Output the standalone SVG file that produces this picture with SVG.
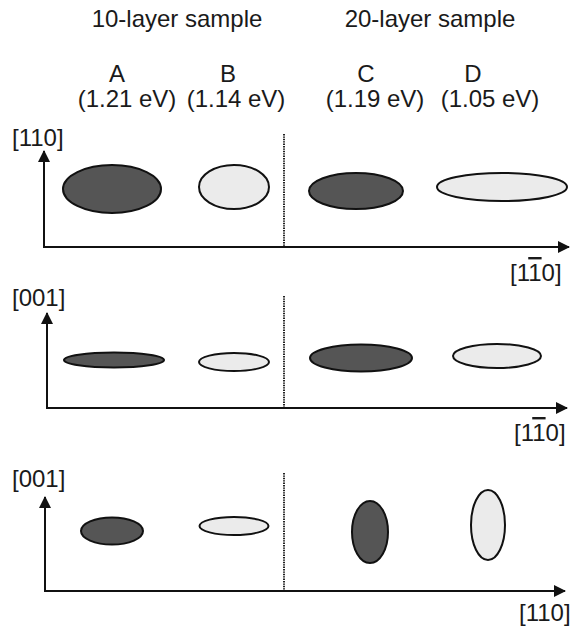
<svg xmlns="http://www.w3.org/2000/svg" width="573" height="628" viewBox="0 0 573 628">
<style>
text{font-family:"Liberation Sans",Arial,sans-serif;font-size:24px;fill:#1a1a1a}
.m{text-anchor:middle}
.ax{stroke:#111;stroke-width:2;fill:none}
.dot{stroke:#222;stroke-width:2;stroke-dasharray:1.4 1;fill:none}
.dk{fill:#555;stroke:#111;stroke-width:2}
.lt{fill:#ebebeb;stroke:#111;stroke-width:2}
.ol{text-decoration:overline}
</style>
<defs>
<marker id="ah" viewBox="0 0 12 12" refX="11" refY="6" markerWidth="12" markerHeight="12" markerUnits="userSpaceOnUse" orient="auto">
<path d="M0,0 L12,6 L0,12 Z" fill="#111"/>
</marker>
</defs>
<g id="headers">
<text class="m" x="177" y="27">10-layer sample</text>
<text class="m" x="430" y="27">20-layer sample</text>
<text class="m" x="117" y="82">A</text>
<text class="m" x="228" y="82">B</text>
<text class="m" x="366" y="82">C</text>
<text class="m" x="473" y="82">D</text>
<text class="m" x="127" y="107">(1.21 eV)</text>
<text class="m" x="236" y="107">(1.14 eV)</text>
<text class="m" x="375" y="107">(1.19 eV)</text>
<text class="m" x="490" y="107">(1.05 eV)</text>
</g>
<g id="connectors">
<line class="ax" x1="44" y1="247" x2="44" y2="151" marker-end="url(#ah)"/>
<line class="ax" x1="43" y1="247" x2="569" y2="247" marker-end="url(#ah)"/>
<line class="dot" x1="284" y1="134" x2="284" y2="246"/>
<line class="ax" x1="47" y1="408" x2="47" y2="313" marker-end="url(#ah)"/>
<line class="ax" x1="46" y1="408" x2="567" y2="408" marker-end="url(#ah)"/>
<line class="dot" x1="284" y1="296" x2="284" y2="407"/>
<line class="ax" x1="45" y1="591" x2="45" y2="497" marker-end="url(#ah)"/>
<line class="ax" x1="44" y1="591" x2="565" y2="591" marker-end="url(#ah)"/>
<line class="dot" x1="284" y1="473" x2="284" y2="590"/>
</g>
<g id="panel1">
<text x="12" y="146">[110]</text>
<text x="510" y="281">[1<tspan class="ol">1</tspan>0]</text>
<ellipse id="A1" class="dk" cx="112" cy="189" rx="49" ry="24"/>
<ellipse id="B1" class="lt" cx="234" cy="187" rx="35" ry="22"/>
<ellipse id="C1" class="dk" cx="356" cy="191" rx="47" ry="18"/>
<ellipse id="D1" class="lt" cx="502" cy="187" rx="65" ry="14"/>
</g>
<g id="panel2">
<text x="12" y="306">[001]</text>
<text x="514" y="441">[1<tspan class="ol">1</tspan>0]</text>
<ellipse id="A2" class="dk" cx="114" cy="360" rx="50" ry="7.5"/>
<ellipse id="B2" class="lt" cx="234" cy="362" rx="35" ry="9"/>
<ellipse id="C2" class="dk" cx="361" cy="358" rx="51" ry="13.5"/>
<ellipse id="D2" class="lt" cx="497" cy="356" rx="44" ry="12"/>
</g>
<g id="panel3">
<text x="12" y="487">[001]</text>
<text x="519" y="621">[110]</text>
<ellipse id="A3" class="dk" cx="112" cy="531" rx="31" ry="13.5"/>
<ellipse id="B3" class="lt" cx="234" cy="526" rx="34.5" ry="9"/>
<ellipse id="C3" class="dk" cx="370" cy="532" rx="18" ry="31"/>
<ellipse id="D3" class="lt" cx="488" cy="525" rx="17" ry="35"/>
</g>
</svg>
